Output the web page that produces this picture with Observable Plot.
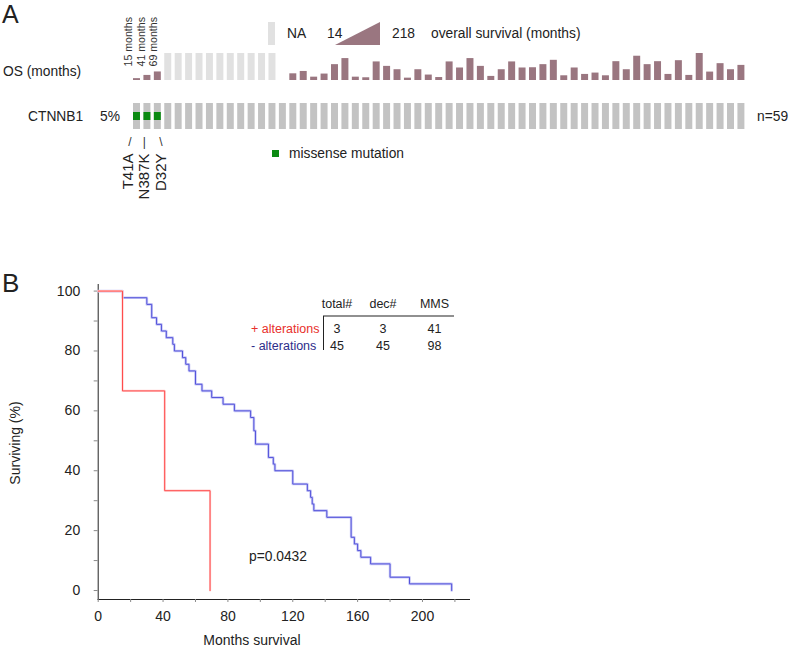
<!DOCTYPE html>
<html><head><meta charset="utf-8">
<script src="https://cdn.jsdelivr.net/npm/d3@7"></script>
<script src="https://cdn.jsdelivr.net/npm/@observablehq/plot@0.6"></script>
<style>
html,body{margin:0;padding:0;background:#fff;}
#wrap{position:relative;width:791px;height:648px;overflow:hidden;font-family:"Liberation Sans",Arial,sans-serif;color:#222;}
#wrap > svg{position:absolute;left:0;margin:0;max-width:none;}
.ax [aria-label*="axis"] path, .ax [aria-label*="axis"] line{stroke:#8a8a8a;}
</style></head><body><div id="wrap"></div>
<script>
// ---------- Panel A data ----------
const sampleIds = d3.range(1, 60);                 // 59 samples
const osMonths = [15, 41, 69,
  "NA","NA","NA","NA","NA","NA","NA","NA","NA","NA","NA",
  null,
  54, 73, 27, 52, 128, 177, 27, 22, 150, 114, 87, 19, 87, 44, 24, 150, 101, 177, 114, 33, 87, 150, 101, 103, 128,
  163, 38, 101, 49, 60, 38, 152, 87, 196, 128, 152, 49, 160, 41, 218, 68, 136, 87, 122];
const osLegendRange = [14, 218];
const mutSamples = [1, 2, 3];
const mutLabels = ["T41A", "N387K", "D32Y"];
const mutConnectors = ["/", "|", "\\"];
const geneName = "CTNNB1";

// ---------- Panel B data ----------
const plusTimes = [15, 41, 69];
const minusTimes = [15, 30, 33, 33, 36, 39, 42, 46, 47, 52, 54, 56, 60, 60, 64, 70, 77, 84, 94, 96, 96, 97, 97,
  105, 105, 108, 109, 120, 120, 129, 131, 132, 133, 141, 156, 156, 156, 158, 160, 162, 168, 180, 180, 192, 218];
const tableHeader = ["total#", "dec#", "MMS"];
const plusRow = [3, 3, 41];
const minusRow = [45, 45, 98];
const pValue = "p=0.0432";
const xTicks = d3.range(0, 221, 20);
const yTicks = d3.range(0, 101, 10);

// ---------- build ----------
const wrap = document.getElementById("wrap");
const FONT = '"Liberation Sans", Arial, sans-serif';
const samples = sampleIds.map((id, i) => ({id, os: osMonths[i]}));
const osNum = samples.filter(d => typeof d.os === "number");
const osNA = samples.filter(d => d.os === "NA");
const osMax = osLegendRange[1];
const mutations = mutSamples.map((s, i) => ({id: s, label: mutLabels[i], conn: mutConnectors[i], os: osMonths[s - 1]}));

const xBand = {type: "band", domain: sampleIds, range: [133, 744.4], paddingInner: 0.33, paddingOuter: 0, round: false, axis: null};

function place(svg, top, cls) {
  svg.style.position = "absolute";
  svg.style.top = top + "px";
  svg.style.left = "0px";
  if (cls) svg.classList.add(cls);
  wrap.appendChild(svg);
}

// OS row
const labelOffsets = [-8, -6, -4.5];
const osPlot = Plot.plot({
  width: 791, height: 90, margin: 0,
  marginLeft: 0, marginRight: 0, marginTop: 53, marginBottom: 10,
  style: {fontFamily: FONT, fontSize: "10.6px", color: "#333", background: "transparent", overflow: "visible"},
  x: xBand,
  y: {domain: [0, osMax], axis: null},
  marks: [
    Plot.barY(osNA, {x: "id", y: () => osMax, fill: "#e1e1e1"}),
    Plot.barY(osNum, {x: "id", y: "os", fill: "#9a7680"}),
    ...mutations.map((m, i) => Plot.text([m], {x: "id", text: d => `${d.os} months`, rotate: -90,
      textAnchor: "start", lineAnchor: "middle", frameAnchor: "bottom", dy: -14, dx: labelOffsets[i], fill: "#333"}))
  ]
});
place(osPlot, 0);

// CTNNB1 row
const connOffsets = [-7, -3, 3];
const mutOffsets = [-9, -3, 3.6];
const genePlot = Plot.plot({
  width: 791, height: 115, margin: 0,
  marginLeft: 0, marginRight: 0, marginTop: 8, marginBottom: 81,
  style: {fontFamily: FONT, fontSize: "15px", color: "#222", background: "transparent", overflow: "visible"},
  x: xBand,
  y: {type: "band", domain: [geneName], padding: 0, round: false, axis: null},
  marks: [
    Plot.cell(samples, {x: "id", y: () => geneName, fill: "#c3c3c3", inset: 0}),
    Plot.cell(mutations, {x: "id", y: () => geneName, fill: "#0b8a12", inset: 0, insetTop: 9, insetBottom: 9}),
    ...mutations.map((m, i) => Plot.text([m], {x: "id", y: () => geneName, text: "conn", dy: 26, dx: connOffsets[i],
      fontSize: 12, lineAnchor: "middle", fill: "#333"})),
    ...mutations.map((m, i) => Plot.text([m], {x: "id", y: () => geneName, text: "label", rotate: -90,
      textAnchor: "end", lineAnchor: "middle", dy: 37, dx: mutOffsets[i], fill: "#222"}))
  ]
});
place(genePlot, 95);

// KM plot
function kmPoints(times, n) {
  const pts = [{t: 0, s: 100}];
  let atRisk = n, s = 100;
  const groups = Array.from(d3.rollup(times, v => v.length, d => d)).sort((a, b) => a[0] - b[0]);
  for (const [t, d] of groups) { s = s * (atRisk - d) / atRisk; atRisk -= d; pts.push({t, s}); }
  return pts;
}
const plusKM = kmPoints(plusTimes, plusTimes.length);
const minusKM = kmPoints(minusTimes, minusTimes.length);

const kmPlot = Plot.plot({
  width: 500, height: 378,
  marginLeft: 97.7, marginRight: 31, marginTop: 14, marginBottom: 49,
  style: {fontFamily: FONT, fontSize: "14px", color: "#222", background: "transparent", overflow: "visible"},
  x: {domain: [0, 229], ticks: xTicks, tickFormat: d => d % 40 === 0 ? d : "", tickSize: 3, tickPadding: 9, line: true, label: null},
  y: {domain: [-3, 102.2], ticks: yTicks, tickFormat: d => d % 20 === 0 ? d : "", tickSize: 4, tickPadding: 14, line: true, label: null},
  marks: [
    Plot.line(minusKM, {x: "t", y: "s", curve: "step-after", stroke: "#c8c8f6", strokeWidth: 2.6}),
    Plot.line(minusKM, {x: "t", y: "s", curve: "step-after", stroke: "#5252da", strokeWidth: 1}),
    Plot.line(plusKM, {x: "t", y: "s", curve: "step-after", stroke: "#ffd0d0", strokeWidth: 2.2}),
    Plot.line(plusKM, {x: "t", y: "s", curve: "step-after", stroke: "#ff4a4a", strokeWidth: 1})
  ]
});
place(kmPlot, 270, "ax");

// ---------- annotation overlay (labels, legends, table) ----------
const pct = Math.round(100 * mutSamples.length / sampleIds.length) + "%";
const colX = [337, 383, 434.5];
const ns = "http://www.w3.org/2000/svg";
const ov = document.createElementNS(ns, "svg");
ov.setAttribute("width", 791); ov.setAttribute("height", 648);
ov.style.position = "absolute"; ov.style.top = "0"; ov.style.left = "0";
ov.style.fontFamily = FONT; ov.style.pointerEvents = "none";
function t(x, y, str, opts = {}) {
  const e = document.createElementNS(ns, "text");
  e.setAttribute("x", x); e.setAttribute("y", y);
  e.setAttribute("font-size", opts.size || 13.8);
  e.setAttribute("fill", opts.fill || "#222");
  if (opts.anchor) e.setAttribute("text-anchor", opts.anchor);
  if (opts.rotate) e.setAttribute("transform", `rotate(${opts.rotate},${x},${y})`);
  e.textContent = str; ov.appendChild(e);
}
function shape(tag, attrs) {
  const e = document.createElementNS(ns, tag);
  for (const k in attrs) e.setAttribute(k, attrs[k]);
  ov.appendChild(e);
}
// panel letters
t(2, 23, "A", {size: 25});
t(2, 292, "B", {size: 26});
// row labels
t(3, 76, "OS (months)");
t(28, 121, geneName);
t(100, 121, pct);
t(757, 121, "n=" + sampleIds.length);
// OS legend
shape("rect", {x: 268, y: 22, width: 7, height: 23, fill: "#e1e1e1"});
t(287, 38, "NA");
t(327, 38, String(osLegendRange[0]));
shape("polygon", {points: "335,45 380,45 380,22", fill: "#9a7680"});
t(392, 38, String(osLegendRange[1]));
t(431, 38, "overall survival (months)");
// mutation legend
shape("rect", {x: 272, y: 150, width: 7, height: 7, fill: "#0b8a12"});
t(289, 158, "missense mutation");
// KM axis titles
t(20, 443, "Surviving (%)", {anchor: "middle", rotate: -90, size: 14});
t(252, 645, "Months survival", {anchor: "middle", size: 14});
// table
tableHeader.forEach((h, i) => t(colX[i], 308, h, {anchor: "middle", size: 12.5}));
shape("line", {x1: 323, y1: 316, x2: 454, y2: 316, stroke: "#222", "stroke-width": 1.2});
shape("line", {x1: 323.5, y1: 316, x2: 323.5, y2: 350, stroke: "#222", "stroke-width": 1});
t(251, 333, "+ alterations", {size: 12.5, fill: "#e8302c"});
t(251, 350, "- alterations", {size: 12.5, fill: "#2d2d8a"});
plusRow.forEach((v, i) => t(colX[i], 333, String(v), {anchor: "middle", size: 12.5}));
minusRow.forEach((v, i) => t(colX[i], 350, String(v), {anchor: "middle", size: 12.5}));
t(249, 561, pValue, {size: 13.8});
wrap.appendChild(ov);
</script></body></html>
